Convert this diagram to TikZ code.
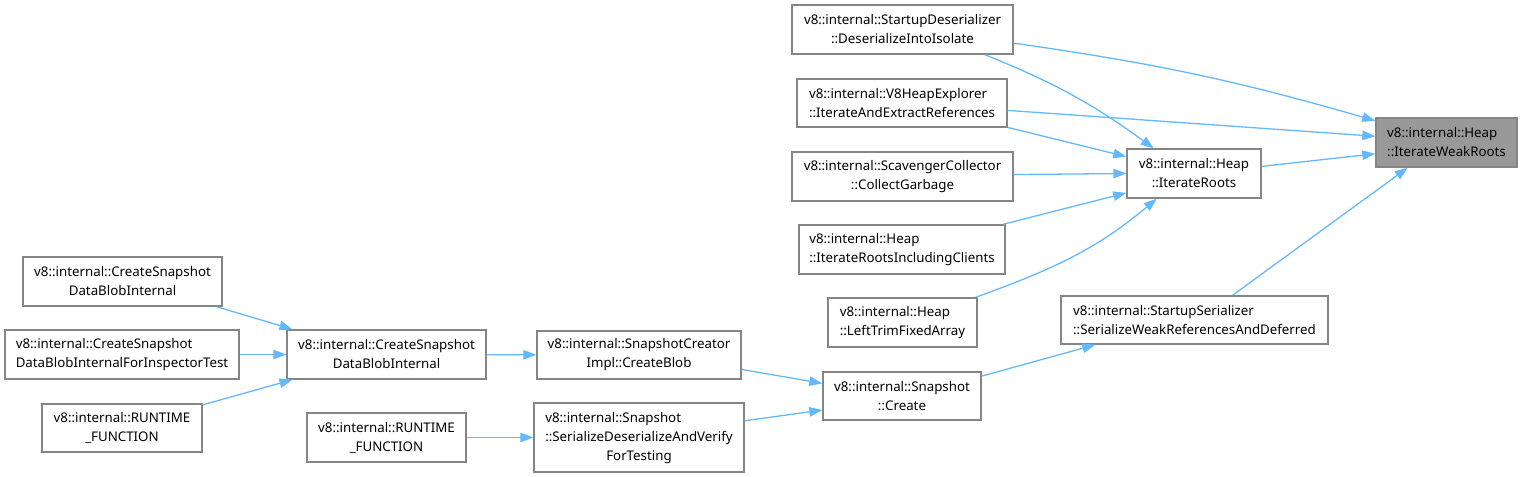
\documentclass[tikz,border=0pt]{standalone}
\usepackage{fontspec}
\setmainfont{Noto Sans}
\usepackage{xcolor}
\usepackage{tikz}
\usetikzlibrary{arrows.meta}
\definecolor{boxline}{HTML}{858585}
\definecolor{hlgray}{HTML}{999999}
\definecolor{callblue}{HTML}{63B8FF}

\begin{document}
\begin{tikzpicture}[x=1bp,y=-1bp,>={Triangle[length=13bp,width=9.5bp]},
  fn/.style={draw=boxline,fill=white,line width=1.4bp,inner sep=2bp,font=\fontsize{13.3bp}{19bp}\selectfont,align=center},
  fnl/.style={fn,align=left},
  fnhl/.style={fnl,fill=hlgray},
  call/.style={->,draw=callblue,line width=1.3bp}]
\useasboundingbox (0,0) rectangle (1523,477);
\node[fn,minimum width=221bp,minimum height=49bp] (desIso) at (902.5,29.5) {v8::internal::StartupDeserializer\\::DeserializeIntoIsolate};
\node[fnl,minimum width=210bp,minimum height=48bp] (heapExp) at (902,103) {v8::internal::V8HeapExplorer\\::IterateAndExtractReferences};
\node[fn,minimum width=221bp,minimum height=49bp] (scav) at (902.5,176.5) {v8::internal::ScavengerCollector\\::CollectGarbage};
\node[fnl,minimum width=206bp,minimum height=49bp] (rootsIncl) at (902,249.5) {v8::internal::Heap\\::IterateRootsIncludingClients};
\node[fnl,minimum width=149bp,minimum height=49bp] (leftTrim) at (902.5,322.5) {v8::internal::Heap\\::LeftTrimFixedArray};
\node[fn,minimum width=158bp,minimum height=48bp] (snapCreate) at (902,396) {v8::internal::Snapshot\\::Create};
\node[fn,minimum width=134bp,minimum height=49bp] (roots) at (1194,173.5) {v8::internal::Heap\\::IterateRoots};
\node[fnl,minimum width=267bp,minimum height=48bp] (startSer) at (1194.5,320) {v8::internal::StartupSerializer\\::SerializeWeakReferencesAndDeferred};
\node[fnhl,minimum width=141bp,minimum height=49bp] (weak) at (1446.5,142.5) {v8::internal::Heap\\::IterateWeakRoots};
\node[fn,minimum width=204bp,minimum height=48bp] (createBlob) at (639,355) {v8::internal::SnapshotCreator\\Impl::CreateBlob};
\node[fn,minimum width=210bp,minimum height=69bp] (serDes) at (639,437.5) {\begin{tabular}{@{}l@{}}v8::internal::Snapshot\\::SerializeDeserializeAndVerify\\\multicolumn{1}{@{}c@{}}{ForTesting}\end{tabular}};
\node[fn,minimum width=199bp,minimum height=49bp] (blobMid) at (386.5,354.5) {v8::internal::CreateSnapshot\\DataBlobInternal};
\node[fn,minimum width=159bp,minimum height=49bp] (runtimeB) at (386.5,437.5) {v8::internal::RUNTIME\\\_FUNCTION};
\node[fn,minimum width=199bp,minimum height=49bp] (blobTop) at (122.5,281.5) {v8::internal::CreateSnapshot\\DataBlobInternal};
\node[fnl,minimum width=234bp,minimum height=49bp] (forInsp) at (122,354.5) {v8::internal::CreateSnapshot\\DataBlobInternalForInspectorTest};
\node[fn,minimum width=160bp,minimum height=48bp] (runtimeA) at (122,428) {v8::internal::RUNTIME\\\_FUNCTION};
\draw[call] (desIso.-7.5) to[bend left=4] (weak.163);
\draw[call] (desIso.-17) to[bend left=7] (roots.148);
\draw[call] (heapExp.-4.4) -- (weak.175.5);
\draw[call] (heapExp.-13) -- (roots.166);
\draw[call] (scav.1) -- (roots.180);
\draw[call] (rootsIncl.14) -- (roots.-164);
\draw[call] (leftTrim.19) to[out=20,in=-140] (roots.-146);
\draw[call] (roots.6) -- (weak.-171.5);
\draw[call] (startSer.33) -- (weak.-147);
\draw[call] (snapCreate.14) -- (startSer.-166);
\draw[call] (createBlob.-8.4) -- (snapCreate.171);
\draw[call] (serDes.9) -- (snapCreate.-170);
\draw[call] (runtimeB) -- (serDes);
\draw[call] (blobMid) -- (createBlob);
\draw[call] (blobTop.-15) -- (blobMid.165);
\draw[call] (forInsp) -- (blobMid);
\draw[call] (runtimeA.16) -- (blobMid.-165);
\end{tikzpicture}
\end{document}
